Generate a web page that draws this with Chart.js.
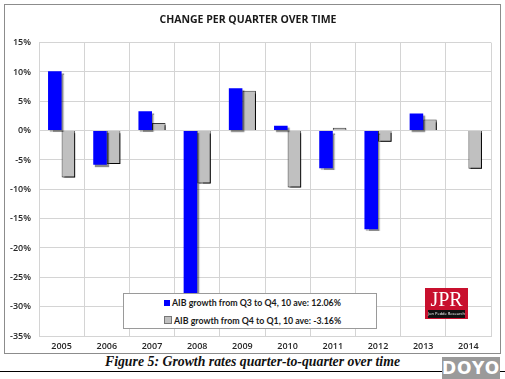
<!DOCTYPE html>
<html>
<head>
<meta charset="utf-8">
<script src="https://cdn.jsdelivr.net/npm/chart.js@4.4.1/dist/chart.umd.min.js"></script>
<style>
  body { margin: 0; width: 505px; height: 379px; background: #fff; position: relative; overflow: hidden; font-family: "Open Sans", sans-serif; }
  #frame { position: absolute; left: 4px; top: 4px; width: 495px; height: 348px; border: 1px solid #8c8c8c; }
  #legend { position: absolute; left: 123px; top: 293px; width: 252px; height: 34px; border: 1px solid #9a9a9a; background: #fff; font-family: Lato, sans-serif; font-size: 8.8px; font-weight: bold; color: #1a1a1a; }
  #legend .row { position: absolute; left: 40px; white-space: nowrap; line-height: 12px; }
  #legend .box { display: inline-block; width: 6px; height: 6px; margin-right: 2px; vertical-align: 0px; }
  #logo { position: absolute; left: 425px; top: 288px; width: 43px; height: 31px; background: #c8102e; }
  #logo .big { position: absolute; left: 0; top: 1px; width: 43px; text-align: center; font-family: "Liberation Serif", serif; font-size: 20px; color: #fff; line-height: 20px; }
  #logo .band { position: absolute; left: 3px; bottom: 1px; width: 37px; height: 8px; background: #111; color: #fff; font-size: 4px; line-height: 8px; text-align: center; white-space: nowrap; }
  #caption { position: absolute; left: 0; top: 354px; width: 505px; text-align: center; font-family: "Liberation Serif", serif; font-style: italic; font-weight: bold; font-size: 13.8px; color: #111; }
  #rule { position: absolute; left: 0; top: 371px; width: 505px; height: 1px; background: #000; }
  #doyo { position: absolute; left: 442px; top: 357px; width: 58px; height: 22px; background: #9a9a9a; color: #fff; font-family: "DejaVu Sans", sans-serif; font-weight: bold; font-size: 17px; line-height: 22px; text-align: center; letter-spacing: 1px; }
</style>
</head>
<body>
<div id="frame"><canvas id="chart" width="495" height="348"></canvas></div>
<div id="legend"></div>
<div id="logo"><div class="big">JPR</div><div class="band">Jon Pedde Research</div></div>
<div id="caption">Figure 5: Growth rates quarter-to-quarter over time</div>
<div id="rule"></div>
<div id="doyo">DOYO</div>
<script>
const years = ['2005', '2006', '2007', '2008', '2009', '2010', '2011', '2012', '2013', '2014'];
const q3toQ4 = [10.1, -5.8, 3.3, -30.0, 7.2, 0.85, -6.4, -16.8, 2.9, null];
const q4toQ1 = [-8.0, -5.7, 1.3, -9.0, 6.8, -9.7, 0.5, -1.9, 1.9, -6.5];
const seriesNames = ['AIB growth from Q3 to Q4, 10 ave: 12.06%', 'AIB growth from Q4 to Q1, 10 ave: -3.16%'];
const seriesColors = ['#0000ff', '#c0c0c0'];

// drop shadow behind the bars, like the Excel original
const barShadow = {
    id: 'barShadow',
    beforeDatasetDraw(chart, args) {
        const ctx = chart.ctx;
        ctx.save();
        ctx.shadowColor = args.index === 0 ? 'rgba(0,0,0,0.45)' : 'rgba(0,0,0,0.9)';
        ctx.shadowOffsetX = 2;
        ctx.shadowOffsetY = 2;
        ctx.shadowBlur = 1;
    },
    afterDatasetDraw(chart) {
        chart.ctx.restore();
    }
};

const tickFont = { family: 'Open Sans', size: 9, weight: '600' };

new Chart(document.getElementById('chart').getContext('2d'), {
    type: 'bar',
    data: {
        labels: years,
        datasets: [{
            label: seriesNames[0],
            data: q3toQ4,
            backgroundColor: seriesColors[0],
            borderWidth: 0
        }, {
            label: seriesNames[1],
            data: q4toQ1,
            backgroundColor: seriesColors[1],
            borderColor: '#3a3a3a',
            borderWidth: 1
        }]
    },
    options: {
        responsive: false,
        animation: false,
        categoryPercentage: 0.6,
        barPercentage: 1.0,
        layout: { padding: { left: 0, right: 9, top: 0, bottom: 0 } },
        plugins: {
            legend: { display: false },
            tooltip: { enabled: false },
            title: {
                display: true,
                text: 'CHANGE PER QUARTER OVER TIME',
                color: '#1a1a1a',
                font: { family: 'Open Sans', size: 10.5, weight: 'bold' },
                padding: { top: 9, bottom: 16 }
            }
        },
        scales: {
            x: {
                grid: { color: '#d4d4d4', drawTicks: false, offset: true },
                border: { color: '#d4d4d4' },
                ticks: { color: '#262626', font: tickFont, padding: 5, maxRotation: 0 },
                afterFit(scale) { scale.height = 17; }
            },
            y: {
                min: -35,
                max: 15,
                grid: { color: '#d4d4d4', drawTicks: false },
                border: { color: '#d4d4d4' },
                ticks: {
                    stepSize: 5,
                    color: '#262626',
                    font: tickFont,
                    padding: 8,
                    callback: v => v + '%'
                },
                afterFit(scale) { scale.width = 34; }
            }
        }
    },
    plugins: [barShadow]
});

// legend box sits inside the plot, as in the original
const legend = document.getElementById('legend');
seriesNames.forEach((name, i) => {
    const row = document.createElement('div');
    row.className = 'row';
    row.style.top = (i === 0 ? 3 : 21) + 'px';
    const box = document.createElement('span');
    box.className = 'box';
    box.style.background = seriesColors[i];
    if (i === 1) box.style.border = '1px solid #777';
    row.appendChild(box);
    row.appendChild(document.createTextNode(name));
    legend.appendChild(row);
});
</script>
</body>
</html>
